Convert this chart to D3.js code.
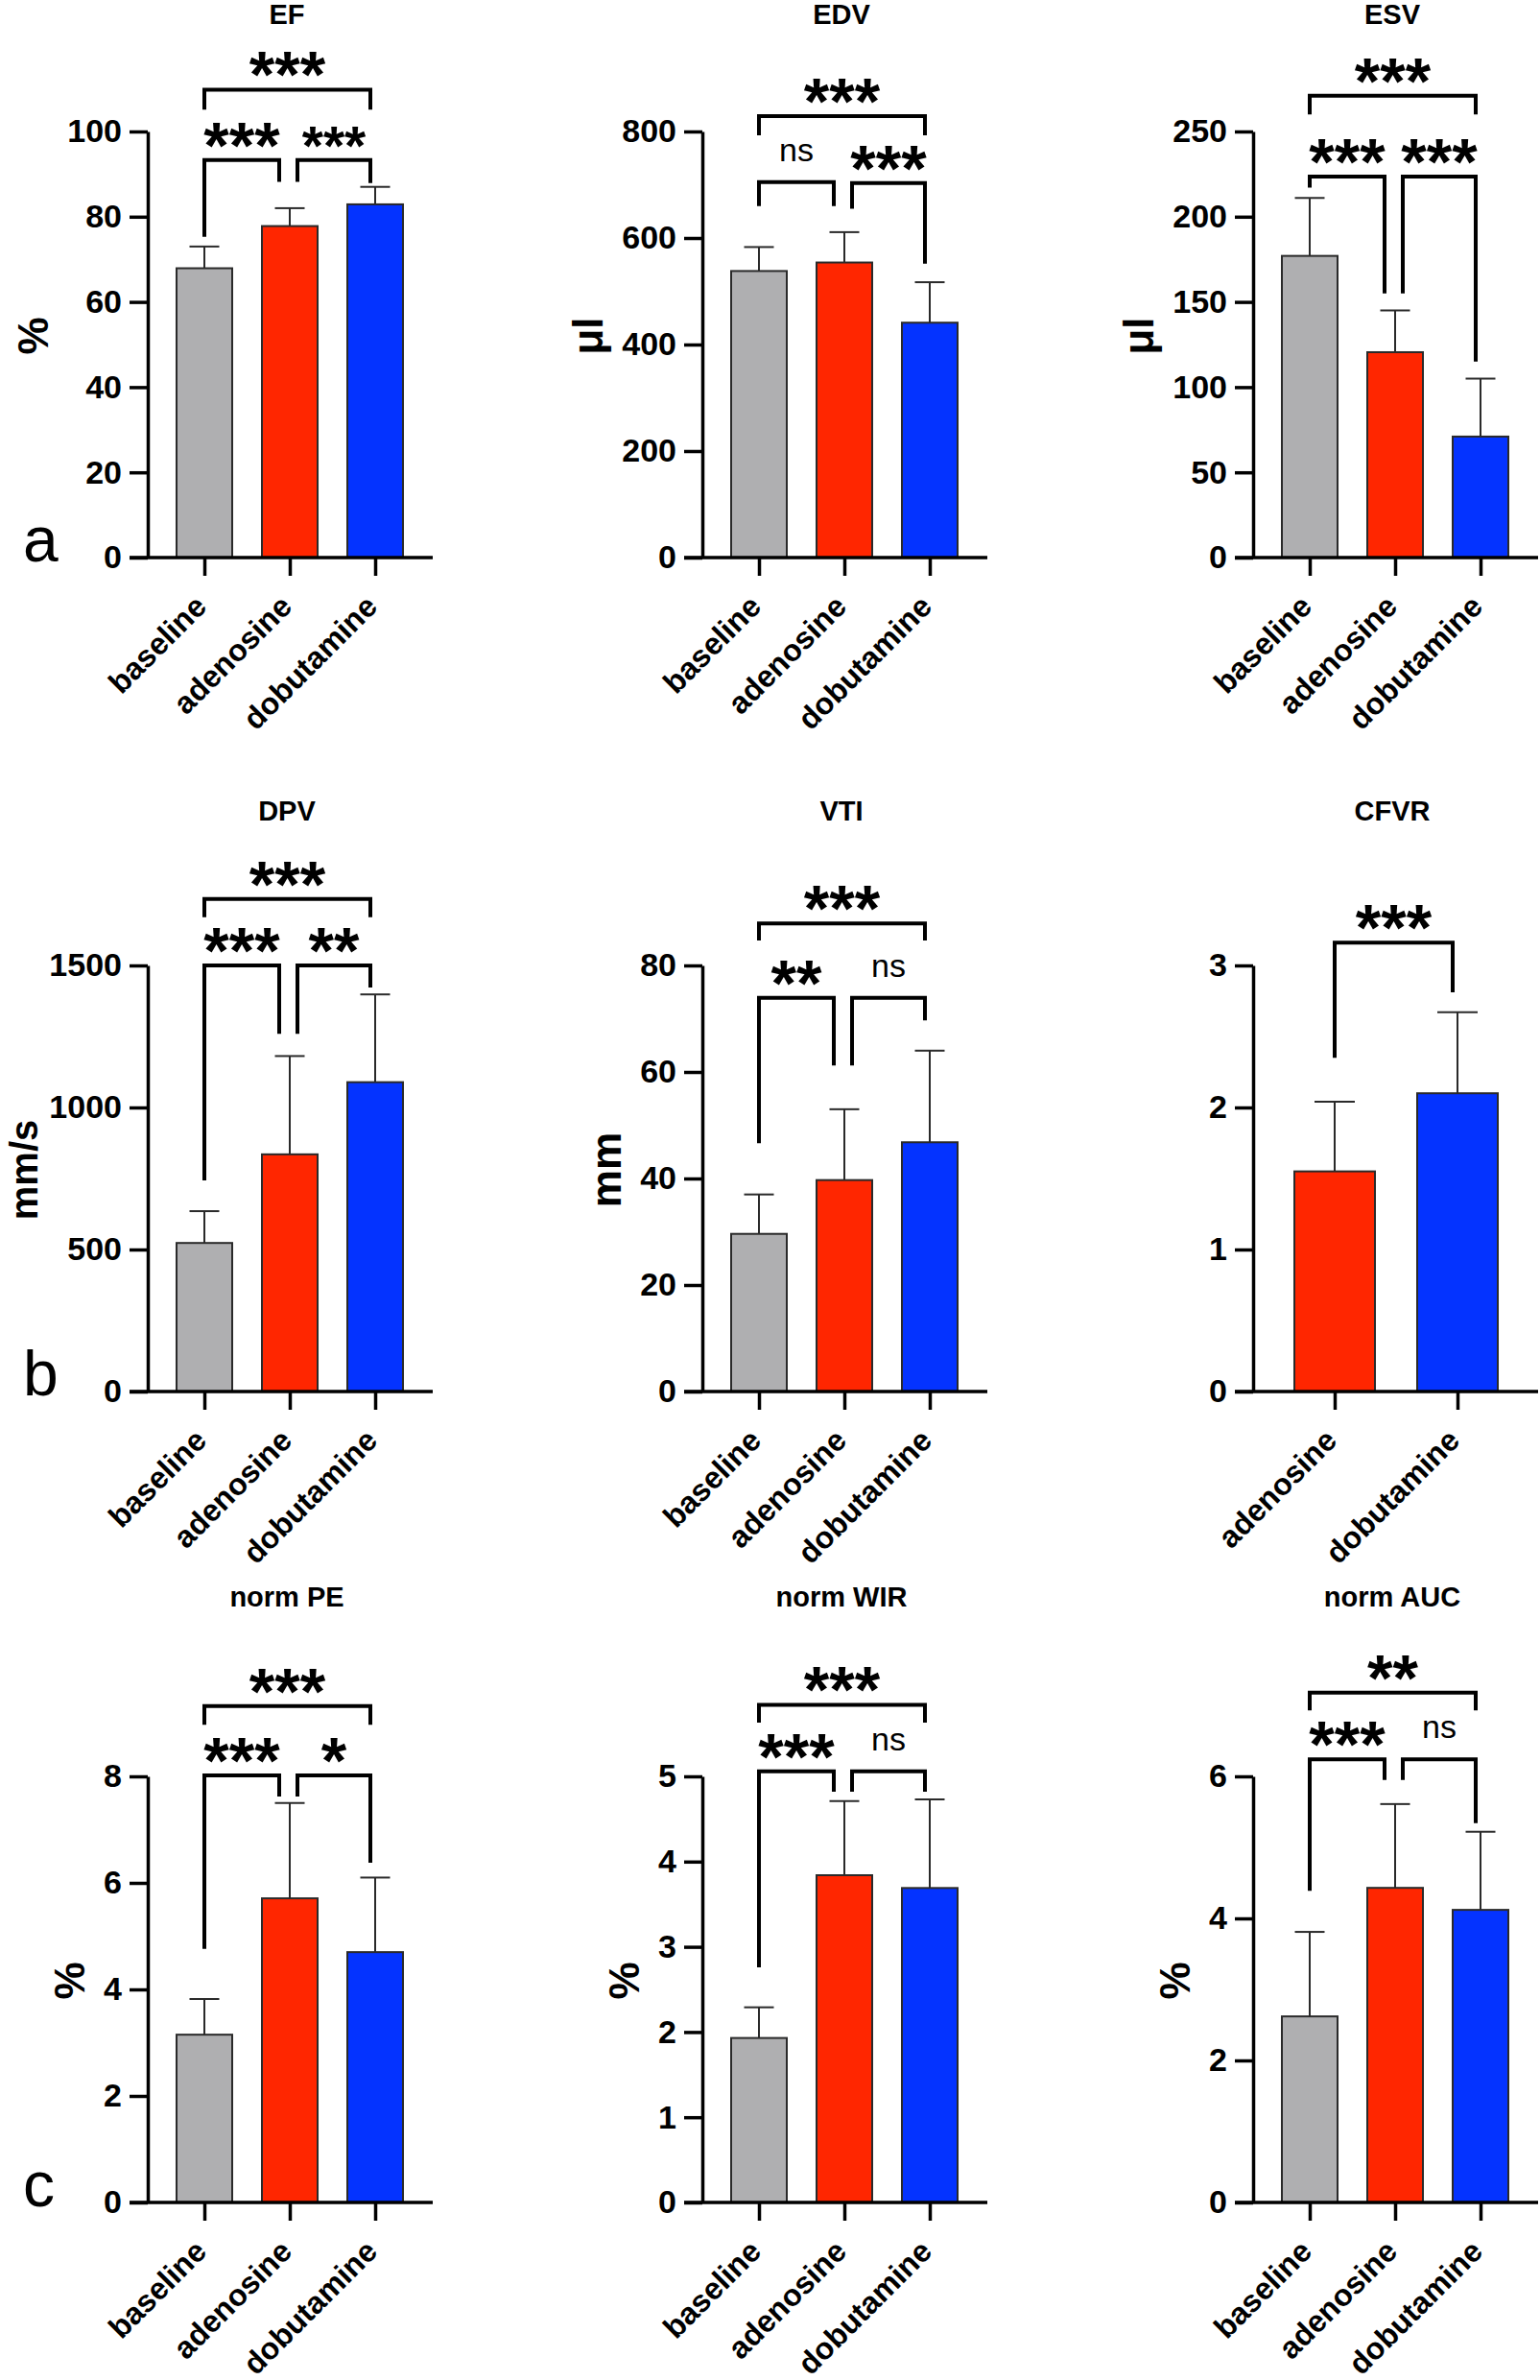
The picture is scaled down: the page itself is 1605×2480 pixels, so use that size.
<!DOCTYPE html>
<html><head><meta charset="utf-8">
<script src="https://cdn.jsdelivr.net/npm/d3@7"></script>
<style>
html,body{margin:0;padding:0;background:#fff;}
svg{display:block;}
text{font-family:"Liberation Sans",Arial,Helvetica,sans-serif;}
</style></head><body>
<svg id="chart" width="1605" height="2480"></svg>
<script>
// ---------- data ----------
const groups3 = ["baseline", "adenosine", "dobutamine"];
const groups2 = ["adenosine", "dobutamine"];
const groupColors = {baseline: "#afafb1", adenosine: "#ff2600", dobutamine: "#0433ff"};

const panelTitles = ["EF", "EDV", "ESV", "DPV", "VTI", "CFVR", "norm PE", "norm WIR", "norm AUC"];
const panelUnits  = ["%", "μl", "μl", "mm/s", "mm", "", "%", "%", "%"];
const panelLetters = ["a", "", "", "b", "", "", "c", "", ""];

const efMean = [67.9, 77.8, 82.9],   efSD = [5.1, 4.2, 4.1];
const edvMean = [538, 554, 441],     edvSD = [45, 57, 76];
const esvMean = [177, 120.5, 71],    esvSD = [34, 24.5, 34];
const dpvMean = [523, 835, 1089],    dpvSD = [112, 346, 309];
const vtiMean = [29.6, 39.7, 46.8],  vtiSD = [7.4, 13.3, 17.2];
const cfvrMean = [1.55, 2.10],       cfvrSD = [0.49, 0.57];
const peMean = [3.15, 5.71, 4.70],   peSD = [0.67, 1.79, 1.40];
const wirMean = [1.93, 3.84, 3.69],  wirSD = [0.36, 0.87, 1.04];
const aucMean = [2.62, 4.43, 4.12],  aucSD = [1.19, 1.18, 1.10];

const efTicks = [0, 20, 40, 60, 80, 100];
const edvTicks = [0, 200, 400, 600, 800];
const esvTicks = [0, 50, 100, 150, 200, 250];
const dpvTicks = [0, 500, 1000, 1500];
const vtiTicks = [0, 20, 40, 60, 80];
const cfvrTicks = [0, 1, 2, 3];
const peTicks = [0, 2, 4, 6, 8];
const wirTicks = [0, 1, 2, 3, 4, 5];
const aucTicks = [0, 2, 4, 6];

// comparisons: [group i, group j, label, bracket level, left leg end, right leg end] (data units)
const efComp  = [[0,1,"***",93.3,75.3,88.2],[1,2,"***",93.3,88.2,87.9],[0,2,"***",109.8,105.1,105.1]];
const edvComp = [[0,1,"ns",705,660,660],[1,2,"***",703,655,552],[0,2,"***",829,793,793]];
const esvComp = [[0,1,"***",223.6,217,155],[1,2,"***",223.6,155,115],[0,2,"***",271,260,260]];
const dpvComp = [[0,1,"***",1500,743,1259],[1,2,"**",1500,1259,1422],[0,2,"***",1734,1670,1670]];
const vtiComp = [[0,1,"**",73.9,46.6,61.2],[1,2,"ns",73.9,61.2,69.7],[0,2,"***",87.9,84.7,84.7]];
const cfvrComp = [[0,1,"***",3.16,2.35,2.81]];
const peComp  = [[0,1,"***",8.02,4.76,7.62],[1,2,"*",8.02,7.62,6.38],[0,2,"***",9.32,8.97,8.97]];
const wirComp = [[0,1,"***",5.06,2.76,4.82],[1,2,"ns",5.06,4.82,4.82],[0,2,"***",5.84,5.63,5.63]];
const aucComp = [[0,1,"***",6.24,4.39,5.95],[1,2,"ns",6.24,5.95,5.34],[0,2,"**",7.18,6.93,6.93]];

const panels = [
  {groups: groups3, mean: efMean,  sd: efSD,  ticks: efTicks,  comp: efComp},
  {groups: groups3, mean: edvMean, sd: edvSD, ticks: edvTicks, comp: edvComp},
  {groups: groups3, mean: esvMean, sd: esvSD, ticks: esvTicks, comp: esvComp},
  {groups: groups3, mean: dpvMean, sd: dpvSD, ticks: dpvTicks, comp: dpvComp},
  {groups: groups3, mean: vtiMean, sd: vtiSD, ticks: vtiTicks, comp: vtiComp},
  {groups: groups2, mean: cfvrMean, sd: cfvrSD, ticks: cfvrTicks, comp: cfvrComp},
  {groups: groups3, mean: peMean,  sd: peSD,  ticks: peTicks,  comp: peComp},
  {groups: groups3, mean: wirMean, sd: wirSD, ticks: wirTicks, comp: wirComp},
  {groups: groups3, mean: aucMean, sd: aucSD, ticks: aucTicks, comp: aucComp}
];

// ---------- layout ----------
const svg = d3.select("#chart");
const colX = [154, 732, 1306];
const rowY0 = [581, 1450, 2295];
const axisH = 444;
const titleBase = [25, 855, 1674];
const FONT = '"Liberation Sans",Arial,Helvetica,sans-serif';

panels.forEach((p, k) => {
  const c = k % 3, r = Math.floor(k / 3);
  const ax = colX[c], y0 = rowY0[r];
  const n = p.groups.length;
  const g = svg.append("g");

  const y = d3.scaleLinear().domain([0, d3.max(p.ticks)]).range([y0, y0 - axisH]);
  const x = d3.scalePoint().domain(p.groups).range(n === 3 ? [ax + 59, ax + 237] : [ax + 85, ax + 213]);
  const bw = n === 3 ? 58 : 84;
  const cap = n === 3 ? 31 : 42;

  const rows = p.groups.map((name, i) => ({name, m: p.mean[i], sd: p.sd[i]}));

  // error bars (upper only)
  g.selectAll("line.err").data(rows).join("line")
    .attr("x1", d => x(d.name)).attr("x2", d => x(d.name))
    .attr("y1", d => y(d.m)).attr("y2", d => y(d.m + d.sd))
    .attr("stroke", "#2a2a2a").attr("stroke-width", 2);
  g.selectAll("line.cap").data(rows).join("line")
    .attr("x1", d => x(d.name) - cap / 2).attr("x2", d => x(d.name) + cap / 2)
    .attr("y1", d => y(d.m + d.sd)).attr("y2", d => y(d.m + d.sd))
    .attr("stroke", "#2a2a2a").attr("stroke-width", 2);

  // bars
  g.selectAll("rect.bar").data(rows).join("rect")
    .attr("x", d => x(d.name) - bw / 2).attr("y", d => y(d.m))
    .attr("width", bw).attr("height", d => y0 - y(d.m))
    .attr("fill", d => groupColors[d.name])
    .attr("stroke", "#2a2a2a").attr("stroke-width", 2);

  // y axis
  const yAxis = d3.axisLeft(y).tickValues(p.ticks).tickSize(19).tickSizeOuter(0).tickPadding(8)
    .tickFormat(d3.format("d"));
  const ga = g.append("g").attr("transform", `translate(${ax},0)`).call(yAxis);
  ga.attr("font-family", FONT).attr("font-size", 34);
  ga.select(".domain").attr("stroke", "#000").attr("stroke-width", 3.5);
  ga.selectAll(".tick line").attr("stroke", "#000").attr("stroke-width", 3.5);
  ga.selectAll(".tick text").attr("font-weight", "bold").attr("fill", "#000");
  let maxW = 0;
  ga.selectAll(".tick text").each(function () { maxW = Math.max(maxW, this.getComputedTextLength()); });

  // x axis
  g.append("line").attr("x1", ax - 19).attr("x2", ax + 297).attr("y1", y0).attr("y2", y0)
    .attr("stroke", "#000").attr("stroke-width", 3.5);
  const xAxis = d3.axisBottom(x).tickSize(19).tickSizeOuter(0).tickFormat("");
  const gx = g.append("g").attr("transform", `translate(0,${y0})`).call(xAxis);
  gx.select(".domain").remove();
  gx.selectAll(".tick line").attr("stroke", "#000").attr("stroke-width", 3.5);

  // category labels
  g.selectAll("text.cat").data(p.groups).join("text")
    .attr("transform", d => `translate(${x(d) + 4},${y0 + 53}) rotate(-45)`)
    .attr("text-anchor", "end").attr("font-size", 32).attr("font-weight", "bold")
    .attr("fill", "#000").text(d => d);

  // title
  g.append("text").attr("x", ax + 145).attr("y", titleBase[r]).attr("text-anchor", "middle")
    .attr("font-size", 29).attr("font-weight", "bold").attr("fill", "#000").text(panelTitles[k]);

  // y unit label
  if (panelUnits[k]) {
    let tx = ax - 27 - maxW - 20, fsz = 44;
    if (tx < 43) { tx = 39; fsz = 40; }
    const ty = (y0 + y0 - axisH) / 2 - 9;
    g.append("text").attr("transform", `translate(${tx},${ty}) rotate(-90)`)
      .attr("text-anchor", "middle").attr("font-size", fsz).attr("font-weight", "bold")
      .attr("fill", "#000").text(panelUnits[k]);
  }

  // panel letter
  if (panelLetters[k]) {
    g.append("text").attr("x", 24).attr("y", y0 + 4).attr("font-size", 66)
      .attr("fill", "#000").text(panelLetters[k]);
  }

  // significance brackets
  p.comp.forEach((cmp, ci) => {
    const [i, j, lab, lvl, la, lb] = cmp;
    const lx = x(p.groups[i]) + (i === 0 ? 0 : 8);
    const rx = x(p.groups[j]) - (j === n - 1 ? 5 : 11);
    const path = d3.path();
    path.moveTo(lx, y(la)); path.lineTo(lx, y(lvl)); path.lineTo(rx, y(lvl)); path.lineTo(rx, y(lb));
    g.append("path").attr("d", path.toString()).attr("fill", "none")
      .attr("stroke", "#000").attr("stroke-width", 4).attr("stroke-linejoin", "miter");
    const isStar = lab.indexOf("*") >= 0;
    const small = (k === 0 && ci === 1);
    const fs = isStar ? (small ? 57 : 68) : 34;
    g.append("text").attr("x", (lx + rx) / 2)
      .attr("y", isStar ? y(lvl) + (small ? 5 : 8) : y(lvl) - 22)
      .attr("text-anchor", "middle").attr("font-size", fs)
      .attr("font-weight", isStar ? "bold" : "normal").attr("fill", "#000").text(lab);
  });
});
</script>
</body></html>
